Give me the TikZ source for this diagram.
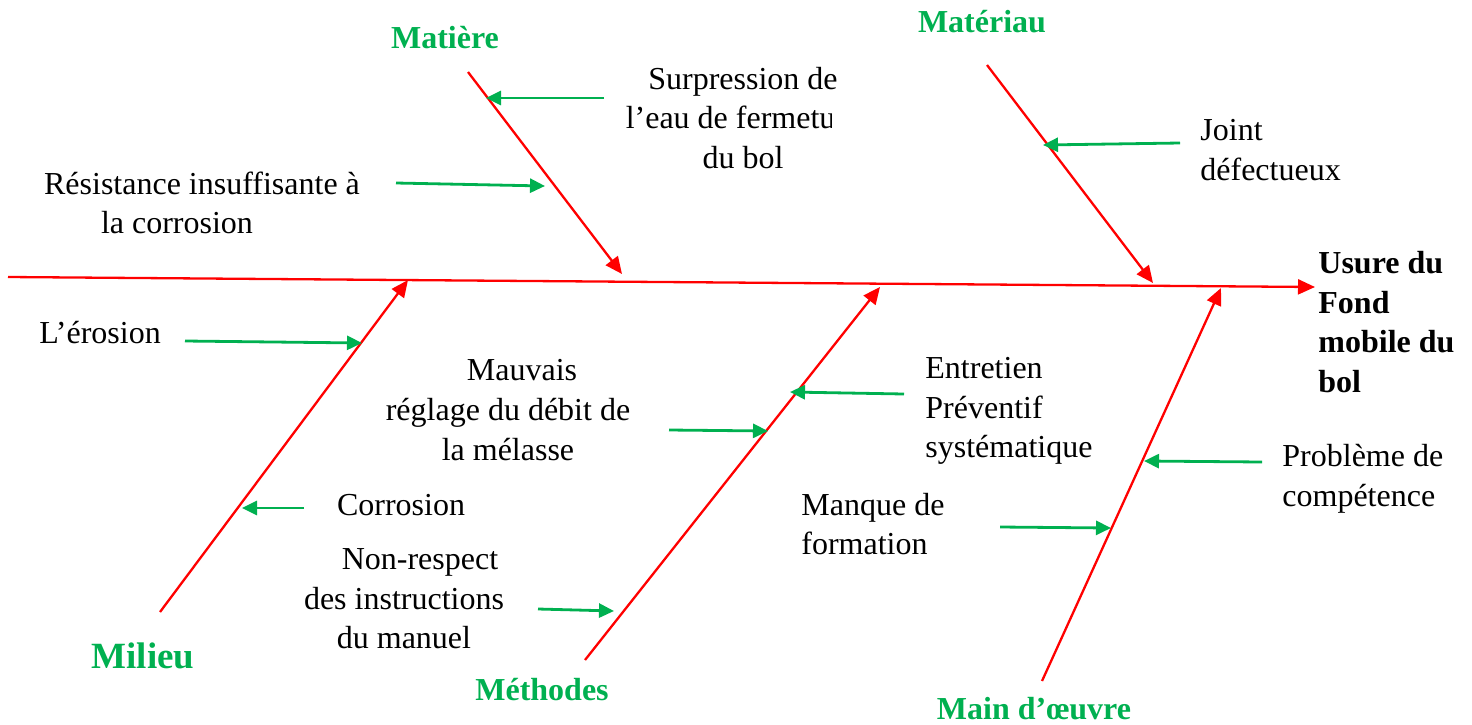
\documentclass[tikz,border=0pt]{standalone}
\usepackage{fontspec}
\setmainfont{Liberation Serif}
\usetikzlibrary{arrows.meta}
\definecolor{cgreen}{HTML}{00B050}
\definecolor{cred}{HTML}{FF0000}
\begin{document}
\begin{tikzpicture}[x=0.5pt,y=-0.5pt,
 bone/.style={cred,line width=1.15pt,-{Triangle[length=8.5pt,width=7.5pt]}},
 cause/.style={cgreen,line width=1.4pt,-{Triangle[length=7.5pt,width=7pt]}},
 txt/.style={inner sep=0pt,font=\fontsize{16}{19.8}\selectfont,align=center},
 ltxt/.style={txt,align=left,anchor=west},
 cat/.style={inner sep=0pt,text=cgreen,font=\fontsize{16}{19.8}\selectfont\bfseries},
 effect/.style={ltxt,font=\fontsize{16}{19.8}\selectfont\bfseries}]
\useasboundingbox (0,0) rectangle (1472,724);

% spine and bones
\coordinate (s0) at (8,277);  \coordinate (s1) at (1315,287);
\coordinate (b1a) at (468,72);  \coordinate (b1b) at (622,274);
\coordinate (b2a) at (987,65);  \coordinate (b2b) at (1153,283);
\coordinate (b3a) at (160,612); \coordinate (b3b) at (408,280);
\coordinate (b4a) at (585,660); \coordinate (b4b) at (880,287);
\coordinate (b5a) at (1042,681);\coordinate (b5b) at (1221,288);
\draw[bone] (s0) -- (s1);
\draw[bone] (b1a) -- (b1b);
\draw[bone] (b2a) -- (b2b);
\draw[bone] (b3a) -- (b3b);
\draw[bone] (b4a) -- (b4b);
\draw[bone] (b5a) -- (b5b);

% category labels
\node[cat] (matiere) at (445,38) {Matière};
\node[cat] (materiau) at (982,22) {Matériau};
\node[cat,font=\fontsize{18.5}{22}\selectfont\bfseries] (milieu) at (143,656) {Milieu};
\node[cat] (methodes) at (542,690) {Méthodes};
\node[cat] (main) at (1034,709) {Main d’œuvre};

% effect
\node[effect] (effet) at (1318,322) {Usure du\\Fond\\mobile du\\bol};

% cause texts
\begin{scope}
\clip (0,0) rectangle (831,724) (831,0) rectangle (1472,99) (831,137) rectangle (1472,724);
\node[txt] (surp) at (743,118) {Surpression de\\l’eau de fermeture\\du bol};
\end{scope}
\node[ltxt] (joint) at (1200,150) {Joint\\défectueux};
\node[txt] (resist) at (202,203) {Résistance insuffisante à\\la corrosion\hspace*{25pt}};
\node[txt] (erosion) at (100,333) {L’érosion};
\node[txt] (mauvais) at (508,410) {\hspace*{14pt}Mauvais\\réglage du débit de\\la mélasse};
\node[ltxt] (entretien) at (925,411) {Entretien\\Préventif\\systématique};
\node[txt] (corrosion) at (401,505) {Corrosion};
\node[txt] (nonresp) at (404,599) {\hspace*{16pt}Non-respect\\des instructions\\du manuel};
\node[ltxt] (manque) at (801,524) {Manque de\\formation};
\node[ltxt] (probleme) at (1282,479) {Problème de\\compétence};

% cause arrows
\coordinate (c1a) at (604,98);  \coordinate (c1b) at (486,98);
\coordinate (c2a) at (396,183); \coordinate (c2b) at (545,186);
\coordinate (c3a) at (1180,143);\coordinate (c3b) at (1043,145);
\coordinate (c4a) at (185,341); \coordinate (c4b) at (362,343);
\coordinate (c5a) at (304,508); \coordinate (c5b) at (242,508);
\coordinate (c6a) at (669,430); \coordinate (c6b) at (768,431);
\coordinate (c7a) at (904,394); \coordinate (c7b) at (790,392);
\coordinate (c8a) at (1262,462);\coordinate (c8b) at (1144,461);
\coordinate (c9a) at (1000,527);\coordinate (c9b) at (1111,528);
\coordinate (c10a) at (538,609);\coordinate (c10b) at (614,611);
\foreach \i in {1,...,10} {\draw[cause] (c\i a) -- (c\i b);}
\end{tikzpicture}
\end{document}
